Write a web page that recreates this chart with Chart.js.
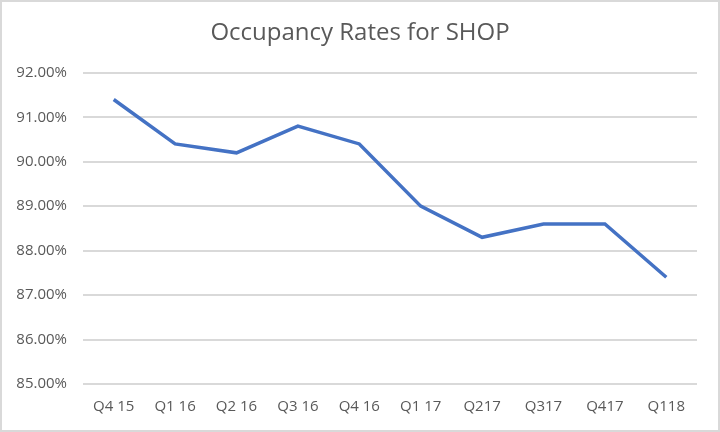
<!DOCTYPE html>
<html>
<head>
<meta charset="utf-8">
<script src="https://cdn.jsdelivr.net/npm/chart.js@4"></script>
<style>
html,body{margin:0;padding:0;background:#fff;}
#wrap{width:720px;height:432px;position:relative;}
</style>
</head>
<body>
<div id="wrap"><canvas id="c" width="720" height="432"></canvas></div>
<script>
const categories = ['Q4 15','Q1 16','Q2 16','Q3 16','Q4 16','Q1 17','Q217','Q317','Q417','Q118'];
const occupancy = [91.4, 90.4, 90.2, 90.8, 90.4, 89.0, 88.3, 88.6, 88.6, 87.4];
const yMin = 85, yMax = 92, yStep = 1;

const frame = {
  id: 'frame',
  beforeDraw(chart) {
    const ctx = chart.ctx;
    ctx.save();
    ctx.fillStyle = '#ffffff';
    ctx.fillRect(0, 0, chart.width, chart.height);
    ctx.strokeStyle = '#d9d9d9';
    ctx.lineWidth = 2;
    ctx.strokeRect(1, 1, chart.width - 2, chart.height - 2);
    ctx.restore();
  }
};

new Chart(document.getElementById('c'), {
  type: 'line',
  data: {
    labels: categories,
    datasets: [{
      data: occupancy,
      borderColor: '#4472C4',
      borderWidth: 3.5,
      pointRadius: 0,
      tension: 0,
      fill: false
    }]
  },
  options: {
    responsive: false,
    animation: false,
    layout: { padding: { left: 0, right: 0, top: 15, bottom: 0 } },
    plugins: {
      legend: { display: false },
      tooltip: { enabled: false },
      title: {
        display: true,
        text: 'Occupancy Rates for SHOP',
        color: '#595959',
        font: { family: 'Open Sans', size: 24, weight: 'normal' },
        padding: { top: 4, bottom: 25 }
      }
    },
    scales: {
      x: {
        offset: true,
        grid: { display: false, drawTicks: false },
        border: { display: false },
        ticks: {
          color: '#595959',
          font: { family: 'Open Sans', size: 15 },
          padding: 14,
          maxRotation: 0,
          autoSkip: false
        },
        afterFit(s) { s.height = 48; }
      },
      y: {
        min: yMin,
        max: yMax,
        grid: { color: '#d9d9d9', lineWidth: 2, drawTicks: false },
        border: { display: false },
        ticks: {
          stepSize: yStep,
          color: '#595959',
          font: { family: 'Open Sans', size: 15 },
          padding: 16,
          callback: v => v.toFixed(2) + '%'
        },
        afterFit(s) { s.width = 83; }
      },
      yRight: {
        type: 'linear',
        position: 'right',
        display: true,
        grid: { display: false, drawTicks: false },
        border: { display: false },
        ticks: { display: false },
        afterFit(s) { s.width = 23; }
      }
    }
  },
  plugins: [frame]
});
</script>
</body>
</html>
